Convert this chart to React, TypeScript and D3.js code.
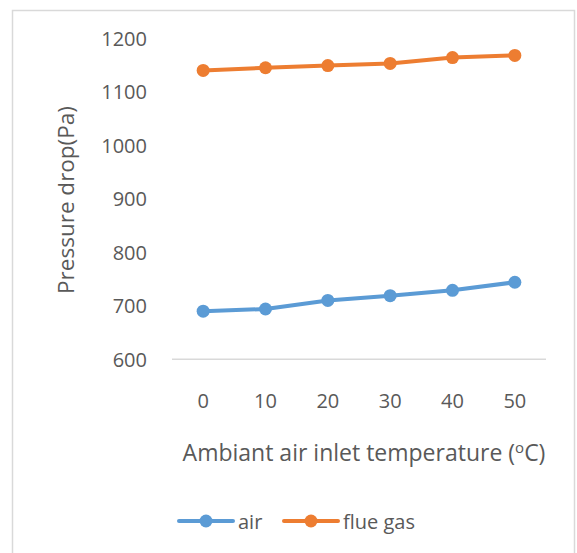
import React from "react";
import * as d3 from "d3";

const categories = ["0", "10", "20", "30", "40", "50"];
const airValues = [690, 694, 710, 719, 729, 744];
const flueGasValues = [1140, 1145, 1149, 1153, 1164, 1168];
const yTicks = [600, 700, 800, 900, 1000, 1100, 1200];
const seriesNames = ["air", "flue gas"];

const W = 577;
const H = 553;
const FONT = "'Open Sans', 'Noto Sans', sans-serif";
const TEXT = "#595959";
const GRID = "#d9d9d9";
const COLORS = ["#5b9bd5", "#ed7d31"];

export default function App() {
  const x = d3.scaleBand<string>().domain(categories).range([172, 546]);
  const y = d3.scaleLinear().domain([600, 1200]).range([359.3, 38.3]);
  const line = d3
    .line<number>()
    .x((_, i) => (x(categories[i]) as number) + x.bandwidth() / 2)
    .y((v) => y(v));

  const series = [airValues, flueGasValues];

  return (
    <svg
      width={W}
      height={H}
      style={{ position: "absolute", left: 0, top: 0, background: "#fff" }}
      fontFamily={FONT}
    >
      <rect x={12.5} y={10.5} width={562} height={560} fill="#fff" stroke={GRID} strokeWidth={1.5} />

      {/* baseline axis */}
      <line x1={172} x2={546} y1={y(600)} y2={y(600)} stroke={GRID} strokeWidth={1.5} />

      {/* y tick labels */}
      {yTicks.map((t) => (
        <text key={t} x={147} y={y(t)} textAnchor="end" dominantBaseline="central" fontSize={20} fill={TEXT}>
          {t}
        </text>
      ))}

      {/* x tick labels */}
      {categories.map((c) => (
        <text
          key={c}
          x={(x(c) as number) + x.bandwidth() / 2}
          y={400}
          textAnchor="middle"
          dominantBaseline="central"
          fontSize={20}
          fill={TEXT}
        >
          {c}
        </text>
      ))}

      {/* axis titles */}
      <text
        transform={`translate(65,200) rotate(-90)`}
        textAnchor="middle"
        dominantBaseline="central"
        fontSize={22.5}
        fill={TEXT}
      >
        Pressure drop(Pa)
      </text>
      <text x={364} y={452} textAnchor="middle" dominantBaseline="central" fontSize={23} fill={TEXT}>
        Ambiant air inlet temperature (
        <tspan fontSize={15} dy={-5}>o</tspan>
        <tspan dy={5}>C)</tspan>
      </text>

      {/* series */}
      {series.map((vals, si) => (
        <g key={si}>
          <path d={line(vals) || ""} fill="none" stroke={COLORS[si]} strokeWidth={4} strokeLinejoin="round" strokeLinecap="round" />
          {vals.map((v, i) => (
            <circle
              key={i}
              cx={(x(categories[i]) as number) + x.bandwidth() / 2}
              cy={y(v)}
              r={6.5}
              fill={COLORS[si]}
            />
          ))}
        </g>
      ))}

      {/* legend */}
      {seriesNames.map((name, si) => {
        const lx = si === 0 ? 179 : 284;
        return (
          <g key={name}>
            <line x1={lx} x2={lx + 54} y1={521} y2={521} stroke={COLORS[si]} strokeWidth={4} strokeLinecap="round" />
            <circle cx={lx + 27} cy={521} r={6.5} fill={COLORS[si]} />
            <text x={lx + 59} y={521} dominantBaseline="central" fontSize={20} fill={TEXT}>
              {name}
            </text>
          </g>
        );
      })}
    </svg>
  );
}
